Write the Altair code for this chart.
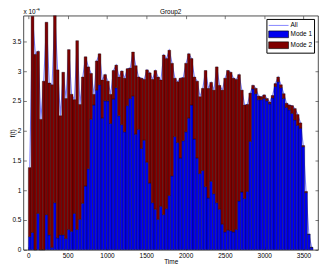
import altair as alt
import pandas as pd

# ---------------- data (values in units of 1e-4) ----------------
bin_width = 35.5
total = [1.38, 3.92, 3.28, 3.33, 2.19, 2.83, 3.82, 2.80, 2.77, 3.93,
         3.02, 2.25, 2.98, 2.54, 3.36, 2.61, 2.52, 3.51, 2.44, 2.90,
         3.24, 3.07, 2.96, 2.61, 3.17, 3.29, 2.85, 2.94, 2.83, 2.61,
         3.01, 3.10, 2.90, 3.00, 2.88, 3.04, 3.05, 3.32, 3.09, 2.90,
         2.88, 2.86, 3.02, 2.97, 2.86, 3.01, 2.90, 2.85, 3.27, 3.21,
         3.35, 3.13, 2.88, 2.82, 2.88, 2.89, 3.13, 3.29, 3.21, 2.90,
         2.83, 2.57, 2.71, 3.01, 2.71, 2.81, 2.68, 3.07, 2.76, 2.68,
         2.88, 3.01, 2.98, 2.88, 2.86, 2.94, 2.68, 2.43, 2.44, 2.63,
         2.76, 2.71, 2.58, 2.57, 2.60, 2.54, 2.48, 2.59, 2.79, 2.90,
         2.77, 2.62, 2.46, 2.43, 2.42, 2.37, 2.27, 2.13, 1.75, 0.98,
         0.26, 0.04]
mode1 = [0.22, 0.29, 0.00, 0.61, 0.00, 0.00, 0.59, 0.25, 0.04, 0.79,
         0.20, 0.25, 0.25, 0.19, 0.34, 0.31, 0.61, 0.34, 0.51, 0.78,
         1.07, 1.36, 2.19, 2.43, 2.68, 2.77, 2.21, 2.50, 2.50, 2.12,
         2.53, 2.72, 2.25, 2.10, 1.98, 2.42, 2.54, 2.58, 1.94, 2.02,
         1.70, 1.84, 1.47, 1.12, 0.79, 0.68, 0.51, 0.73, 0.59, 0.69,
         0.91, 1.24, 1.90, 1.80, 1.54, 1.83, 1.98, 2.21, 2.43, 1.86,
         1.54, 1.28, 1.33, 1.06, 0.87, 1.15, 0.94, 0.79, 0.68, 0.43,
         0.30, 0.33, 0.32, 0.30, 0.34, 0.82, 0.97, 0.86, 0.98, 1.82,
         2.70, 2.62, 2.52, 2.52, 2.54, 2.50, 2.45, 2.55, 2.74, 2.82,
         2.72, 2.54, 2.39, 2.35, 2.29, 2.18, 2.09, 2.04, 1.73, 0.96,
         0.26, 0.04]
x_ticks = [0, 500, 1000, 1500, 2000, 2500, 3000, 3500]
y_ticks = [0, 0.5, 1, 1.5, 2, 2.5, 3, 3.5]
y_max = 3.93
series_names = ["All", "Mode 1", "Mode 2"]
series_colors = ["#8080ff", "#0000f0", "#800000"]
chart_title = ["Group2"]
exp_base = ["x 10"]
exp_power = ["-4"]

n = len(total)
rows = []
for i in range(n):
    s = i * bin_width
    # Mode 1 at the bottom, Mode 2 stacked on top up to the total
    rows.append({"start": s, "end": s + bin_width, "series": "Mode 1",
                 "lo": 0.0, "hi": mode1[i]})
    rows.append({"start": s, "end": s + bin_width, "series": "Mode 2",
                 "lo": mode1[i], "hi": total[i]})
bars_df = pd.DataFrame(rows)
line_df = pd.DataFrame({"center": [i * bin_width + bin_width / 2 for i in range(n)],
                        "total": total})

FONT = "Liberation Sans"
FS = 6.5
W, H = 297, 236

xs = alt.Scale(domain=[0, n * bin_width], nice=False, zero=False)
ys = alt.Scale(domain=[0, y_max], nice=False)

line = alt.Chart(line_df).mark_line(color="#8080ff", strokeWidth=1.1).encode(
    x=alt.X("center:Q", scale=xs,
            axis=alt.Axis(values=x_ticks, format="d", orient="bottom", offset=-3,
                          tickSize=3, domain=False, grid=False, labelPadding=2.5,
                          title="Time", titlePadding=0)),
    y=alt.Y("total:Q", scale=ys,
            axis=alt.Axis(values=y_ticks, format="~g", orient="left", offset=-3,
                          tickSize=3, domain=False, grid=False, labelPadding=2.5,
                          title="f(t)", titleX=-14, titleBaseline="middle",
                          titleAlign="center")),
)

bars = alt.Chart(bars_df).mark_bar(stroke="#000000", strokeWidth=0.4,
                                   strokeOpacity=0.85, orient="vertical").encode(
    x=alt.X("start:Q", scale=xs,
            axis=alt.Axis(values=x_ticks, orient="top", offset=-3, tickSize=3,
                          labels=False, domain=False, grid=False, title=None)),
    x2="end:Q",
    y=alt.Y("lo:Q", scale=ys,
            axis=alt.Axis(values=y_ticks, orient="right", offset=-3, tickSize=3,
                          labels=False, domain=False, grid=False, title=None)),
    y2="hi:Q",
    color=alt.Color("series:N",
                    scale=alt.Scale(domain=series_names, range=series_colors),
                    legend=alt.Legend(
                        title=None, orient="none", legendX=245, legendY=3.3,
                        fillColor="white", strokeColor="black", padding=2,
                        labelFontSize=FS, labelFont=FONT, labelColor="black",
                        symbolType={"expr": "datum.value === 'All' ? 'M-2.5,-0.12H2.5V0.12H-2.5Z' : 'M-2.5,-0.85H2.5V0.85H-2.5Z'"},
                        symbolSize=64,
                        symbolStrokeColor={"expr": "datum.value === 'All' ? 'transparent' : 'black'"},
                        symbolStrokeWidth=0.6, symbolOpacity=1,
                        symbolOffset=5.8, labelOffset=7.5, rowPadding=0)),
)

title_txt = alt.Chart(pd.DataFrame({"t": chart_title})).mark_text(
    font=FONT, fontSize=FS, align="center", baseline="alphabetic", color="black"
).encode(text="t:N", x=alt.value(W / 2), y=alt.value(-1.6))

note = alt.Chart(pd.DataFrame({"t": exp_base})).mark_text(
    font=FONT, fontSize=FS, align="left", baseline="alphabetic", color="black"
).encode(text="t:N", x=alt.value(0), y=alt.value(-2.0))
note_exp = alt.Chart(pd.DataFrame({"t": exp_power})).mark_text(
    font=FONT, fontSize=4.5, align="left", baseline="alphabetic", color="black"
).encode(text="t:N", x=alt.value(12.5), y=alt.value(-4.3))

chart = alt.layer(line, bars, title_txt, note, note_exp).resolve_axis(
    x="independent", y="independent"
).properties(
    width=W, height=H,
    padding={"left": 15.5, "top": 6.7, "right": 1, "bottom": 15.5},
    autosize=alt.AutoSizeParams(type="none"),
).configure_view(
    stroke="#222222", strokeWidth=0.8
).configure_axis(
    labelFont=FONT, labelFontSize=FS, labelColor="black",
    titleFont=FONT, titleFontSize=FS, titleFontWeight="normal", titleColor="black",
    tickColor="#222222", tickWidth=0.6
)

chart.save("out.html", embed_options={"renderer": "svg", "actions": False})
